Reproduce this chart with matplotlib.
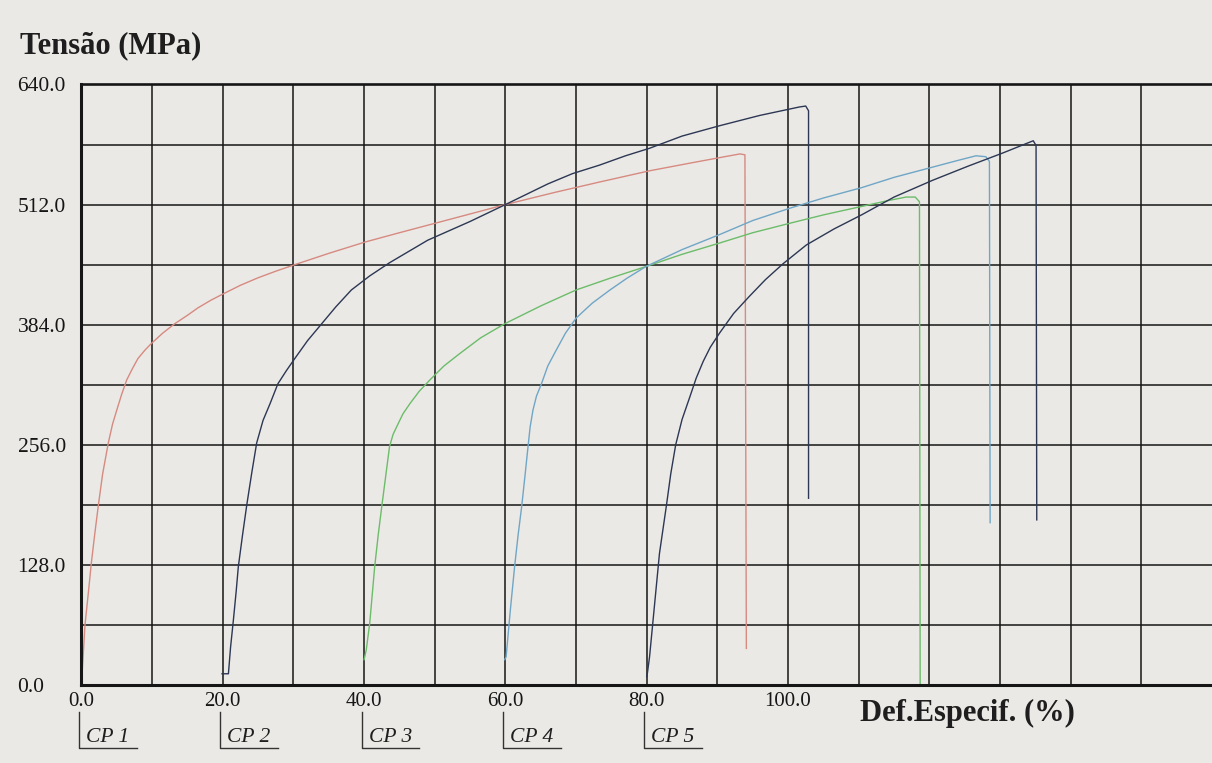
import matplotlib.pyplot as plt
import matplotlib.transforms as transforms
import numpy as np

# ensaio de tracao - 5 corpos de prova, curvas deslocadas de 20% em 20%
cp_names = ['CP 1', 'CP 2', 'CP 3', 'CP 4', 'CP 5']
cp_start = [0.0, 20.0, 40.0, 60.0, 80.0]

cp1_def = [0.0, 0.5, 1.0, 1.4, 1.9, 2.4, 3.0, 3.8, 4.4, 5.0, 5.7, 6.4, 7.2, 8.0, 9.0, 9.9,
           11.5, 13.2, 15.0, 16.5, 18.3, 20.1, 22.5, 25.0, 27.5, 30.2, 35.0, 40.1, 45.0,
           50.0, 55.0, 60.0, 67.0, 73.3, 80.4, 86.0, 90.3, 93.2, 93.9, 94.1]
cp1_ten = [0, 64, 100, 130, 162, 192, 225, 258, 278, 293, 310, 325, 337, 348, 357, 364,
           375, 385, 394, 402, 410, 417, 426, 434, 441, 448, 460, 472, 482,
           492, 502, 512, 525, 536, 548, 556, 562, 566, 565, 39]

cp2_def = [19.9, 20.8, 21.1, 21.5, 21.9, 22.2, 22.8, 23.4, 24.1, 24.8, 25.7, 26.7, 27.8,
           29.0, 30.2, 32.0, 34.0, 36.0, 38.2, 40.8, 43.6, 46.3, 49.0, 52.0, 55.0, 57.5,
           60.0, 63.0, 66.0, 69.5, 73.3, 77.0, 80.4, 85.0, 90.3, 96.0, 101.6, 102.5,
           102.9, 102.9]
cp2_ten = [12, 12, 40, 69, 100, 126, 160, 192, 226, 258, 282, 300, 321,
           335, 348, 367, 385, 403, 421, 436, 450, 462, 474, 484, 494, 503,
           512, 523, 534, 545, 554, 564, 572, 585, 596, 607, 616, 617,
           612, 199]

cp3_def = [40.0, 40.3, 40.8, 41.5, 42.0, 42.5, 43.1, 43.6, 44.1, 44.6, 45.5, 46.5, 47.8,
           49.3, 51.3, 53.5, 56.5, 59.9, 65.0, 70.0, 75.0, 79.9, 85.0, 90.3, 95.0, 100.2,
           105.0, 110.4, 114.0, 116.7, 118.0, 118.6, 118.7]
cp3_ten = [27, 37, 66, 126, 160, 190, 225, 254, 267, 275, 289, 300, 313,
           325, 340, 353, 370, 385, 404, 421, 434, 446, 459, 471, 482, 492,
           501, 510, 516, 520, 520, 515, 0]

cp4_def = [59.9, 60.1, 60.7, 61.3, 61.8, 62.3, 62.8, 63.2, 63.5, 63.9, 64.4, 65.1, 66.0,
           67.2, 68.5, 70.0, 72.3, 74.8, 77.3, 79.9, 85.0, 90.3, 95.0, 100.2, 105.0, 110.4,
           115.0, 120.5, 124.0, 126.6, 128.0, 128.5, 128.6]
cp4_ten = [27, 30, 80, 126, 160, 190, 225, 254, 275, 293, 308, 321, 340,
           357, 375, 391, 407, 421, 434, 446, 464, 480, 495, 508, 519, 530,
           541, 552, 559, 564, 563, 558, 173]

cp5_def = [80.0, 80.1, 80.4, 81.1, 81.8, 82.8, 83.4, 84.1, 85.0, 86.1, 87.0, 88.0, 89.0,
           90.3, 92.3, 94.5, 96.8, 99.3, 102.6, 106.5, 110.4, 115.0, 120.5, 125.5, 130.4,
           134.7, 135.1, 135.2]
cp5_ten = [9, 13, 30, 85, 140, 192, 225, 256, 283, 307, 327, 345, 360,
           375, 396, 414, 432, 449, 469, 486, 501, 520, 538, 553, 567,
           580, 575, 176]

x_ticks = [0, 20, 40, 60, 80, 100]
y_ticks = [0, 128, 256, 384, 512, 640]

paper = '#ebe9e6'
ink = '#161616'

plt.rcParams['font.family'] = ['Liberation Serif', 'DejaVu Serif']

fig, ax = plt.subplots(figsize=(12.12, 7.63), dpi=100)
fig.patch.set_facecolor(paper)
ax.set_facecolor(paper)
fig.subplots_adjust(left=0.0672, right=1.0, bottom=0.1022, top=0.8893)

# grade de 10 em 10 % e 64 em 64 MPa
for gx in np.arange(10, 160, 10):
    ax.axvline(gx, color=ink, lw=1.1, zorder=1)
for gy in np.arange(64, 640, 64):
    ax.axhline(gy, color=ink, lw=1.1, zorder=1)

ax.plot(cp1_def, cp1_ten, color='#d68a80', lw=1.0, zorder=3)
ax.plot(cp2_def, cp2_ten, color='#2c3754', lw=1.0, zorder=3)
ax.plot(cp3_def, cp3_ten, color='#6cbc6a', lw=1.0, zorder=3)
ax.plot(cp4_def, cp4_ten, color='#6fa6c6', lw=1.0, zorder=3)
ax.plot(cp5_def, cp5_ten, color='#2c3754', lw=1.0, zorder=3)

ax.set_xlim(0, 160)
ax.set_ylim(0, 640)

ax.set_xticks(x_ticks)
ax.set_xticklabels(['%.1f' % v for v in x_ticks], fontsize=15)
ax.set_yticks(y_ticks)
ax.set_yticklabels(['%.1f' % v for v in y_ticks], fontsize=15.5)
ax.tick_params(axis='both', length=0, colors=ink)
ax.tick_params(axis='x', pad=5)
ax.tick_params(axis='y', pad=46)
for lab in ax.get_yticklabels():
    lab.set_horizontalalignment('left')

ax.spines['right'].set_visible(False)
ax.spines['left'].set_linewidth(2.2)
ax.spines['bottom'].set_linewidth(2.2)
ax.spines['top'].set_linewidth(1.9)
for s in ['left', 'bottom', 'top']:
    ax.spines[s].set_color(ink)
    ax.spines[s].set_zorder(4)

fig.text(20 / 1212, 1 - 46 / 763, 'Tensão (MPa)', fontsize=22, fontweight='bold',
         color='#1e1e1e', va='center', ha='left')
fig.text(860 / 1212, 1 - 713 / 763, 'Def.Especif. (%)', fontsize=22, fontweight='bold',
         color='#1e1e1e', va='center', ha='left')

# identificacao dos corpos de prova sob o eixo x
trans = transforms.blended_transform_factory(ax.transData, fig.transFigure)
for name, x0 in zip(cp_names, cp_start):
    ax.text(x0 + 0.65, 1 - 742 / 763, name, transform=trans, fontsize=15.5,
            fontstyle='italic', color='#1e1e1e', ha='left', va='baseline')
    ax.plot([x0 - 0.35, x0 - 0.35, x0 + 7.8], [1 - 712 / 763, 1 - 748 / 763, 1 - 748 / 763],
            transform=trans, color='#333333', lw=1.0, clip_on=False)

plt.savefig('out.png', dpi=100, facecolor=paper)
